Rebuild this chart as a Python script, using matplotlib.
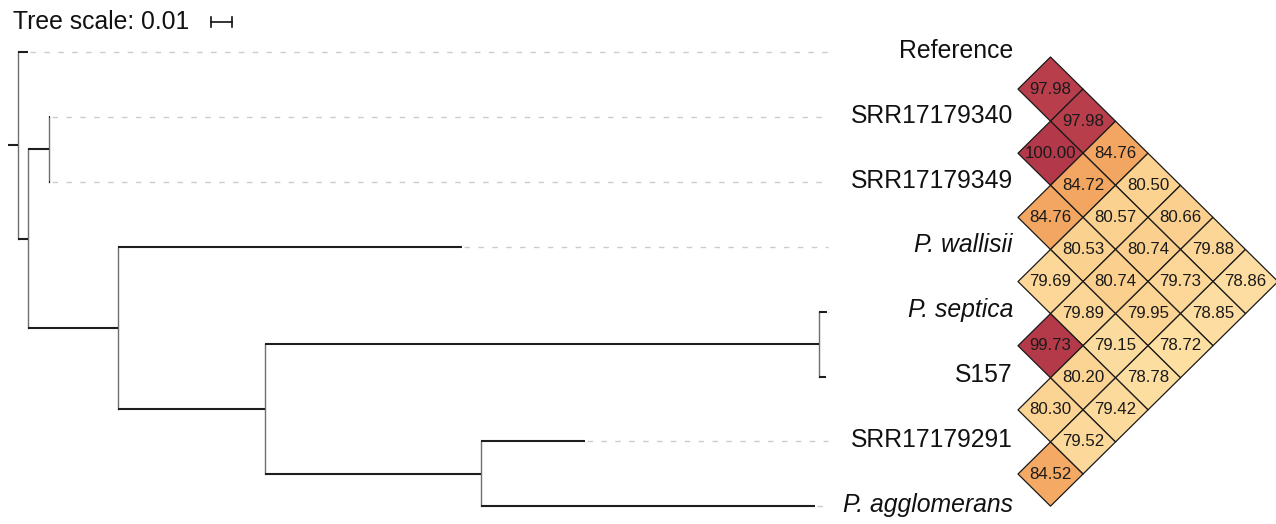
import matplotlib
matplotlib.use("Agg")
import matplotlib.pyplot as plt
import numpy as np
from matplotlib.collections import PolyCollection
from matplotlib.colors import LinearSegmentedColormap, Normalize

plt.rcParams["font.family"] = ["Liberation Sans", "DejaVu Sans"]

# tree (branch lengths in substitutions/site)
node_names = ["root", "Reference", "B", "C", "SRR17179340", "SRR17179349",
              "D", "P. wallisii", "E", "F", "P. septica", "S157",
              "G", "SRR17179291", "P. agglomerans"]
parents = [None, "root", "root", "B", "C", "C",
           "B", "D", "D", "E", "F", "F",
           "E", "G", "G"]
branch_lengths = [0.0049, 0.0049, 0.0049, 0.0102, 0.0005, 0.0005,
                  0.0439, 0.1678, 0.0717, 0.2702, 0.0039, 0.0034,
                  0.1054, 0.0507, 0.1629]

leaf_order = ["Reference", "SRR17179340", "SRR17179349", "P. wallisii",
              "P. septica", "S157", "SRR17179291", "P. agglomerans"]
italic_labels = ["P. wallisii", "P. septica", "P. agglomerans"]

# pairwise ANI (%), upper triangle, row i vs leaves i+1..7
ani_rows = [
    [97.98, 97.98, 84.76, 80.50, 80.66, 79.88, 78.86],
    [100.00, 84.72, 80.57, 80.74, 79.73, 78.85],
    [84.76, 80.53, 80.74, 79.95, 78.72],
    [79.69, 79.89, 79.15, 78.78],
    [99.73, 80.20, 79.42],
    [80.30, 79.52],
    [84.52],
]

scale_len = 0.01

# ---- layout (pixels) ----
W, H = 1276, 524
PX_UNIT = 2050.0      # pixels per tree unit
TREE_X0 = 8           # root stub start
LEAF_Y0, LEAF_DY = 52, 64.9
HM_X0, HM_DX = 1018, 65.0
HM_Y0, HM_DY = 57, 64.16

fig = plt.figure(figsize=(W / 100, H / 100), dpi=100)
fig.patch.set_facecolor("white")

ax = fig.add_axes([0, 0, 1, 1])
ax.set_xlim(-TREE_X0 / PX_UNIT, (W - TREE_X0) / PX_UNIT)
ax.set_ylim((H - LEAF_Y0) / LEAF_DY, -LEAF_Y0 / LEAF_DY)
ax.axis("off")

# compute node depth and y
idx = {n: i for i, n in enumerate(node_names)}
children = {n: [] for n in node_names}
for n, p in zip(node_names, parents):
    if p is not None:
        children[p].append(n)

depth = {}
def set_depth(n, d):
    depth[n] = d + branch_lengths[idx[n]]
    for c in children[n]:
        set_depth(c, depth[n])
set_depth("root", 0.0)

ypos = {}
def set_y(n):
    if not children[n]:
        ypos[n] = leaf_order.index(n)
    else:
        ys = [set_y(c) for c in children[n]]
        ypos[n] = (min(ys) + max(ys)) / 2
    return ypos[n]
set_y("root")

hcol, vcol = "#1e1e1e", "#707070"
for n, p in zip(node_names, parents):
    x1 = depth[n]
    x0 = depth[p] if p is not None else 0.0
    ax.plot([x0, x1], [ypos[n], ypos[n]], color=hcol, lw=1.5,
            solid_capstyle="butt", zorder=3)
    if children[n]:
        ys = [ypos[c] for c in children[n]]
        ax.plot([x1, x1], [min(ys), max(ys)], color=vcol, lw=1.0, zorder=2)

dash_end = 0.4
label_x = (1013 - TREE_X0) / PX_UNIT
for k, name in enumerate(leaf_order):
    if depth[name] < dash_end:
        ax.plot([depth[name] + 0.001, dash_end], [k, k], color="#cccccc",
                lw=1.0, linestyle=(0, (4, 6)), zorder=1)
    ax.text(label_x, k - 0.02, name, ha="right", va="center", fontsize=17.8,
            style="italic" if name in italic_labels else "normal",
            color="#111111")

# tree scale
sy = -30 / LEAF_DY
ax.text((13 - TREE_X0) / PX_UNIT, sy, f"Tree scale: {scale_len}",
        ha="left", va="center", fontsize=17.8, color="#111111")
sx0 = (211 - TREE_X0) / PX_UNIT
ax.plot([sx0, sx0 + scale_len], [sy, sy], color="#111111", lw=1.2)
for sx in (sx0, sx0 + scale_len):
    ax.plot([sx, sx], [sy - 0.075, sy + 0.075], color="#111111", lw=1.2)

# ---- diamond heatmap ----
hm = fig.add_axes([0, 0, 1, 1])
hm.set_xlim(-HM_X0 / HM_DX, (W - HM_X0) / HM_DX)
hm.set_ylim((H - HM_Y0) / HM_DY, -HM_Y0 / HM_DY)
hm.axis("off")
hm.patch.set_alpha(0)

cmap = LinearSegmentedColormap.from_list("ani", [
    (0.00, "#fde0a4"),
    (0.10, "#fbd08e"),
    (0.15, "#f9c886"),
    (0.30, "#f3a45f"),
    (0.60, "#d9654f"),
    (0.88, "#ba404d"),
    (1.00, "#b3394a"),
])
norm = Normalize(vmin=78.5, vmax=100.0)

polys, vals, centers = [], [], []
for i, row in enumerate(ani_rows):
    for off, v in enumerate(row):
        j = i + 1 + off
        cx, cy = (j - i) / 2, (i + j) / 2
        polys.append([(cx - 0.5, cy), (cx, cy - 0.5), (cx + 0.5, cy), (cx, cy + 0.5)])
        vals.append(v)
        centers.append((cx, cy))

pc = PolyCollection(polys, array=np.array(vals), cmap=cmap, norm=norm,
                    edgecolors="#1a1a1a", linewidths=0.9)
hm.add_collection(pc)
for (cx, cy), v in zip(centers, vals):
    hm.text(cx, cy, f"{v:.2f}", ha="center", va="center", fontsize=12.2,
            color="#1a1a1a")

fig.savefig("out.png", dpi=100, facecolor="white")
